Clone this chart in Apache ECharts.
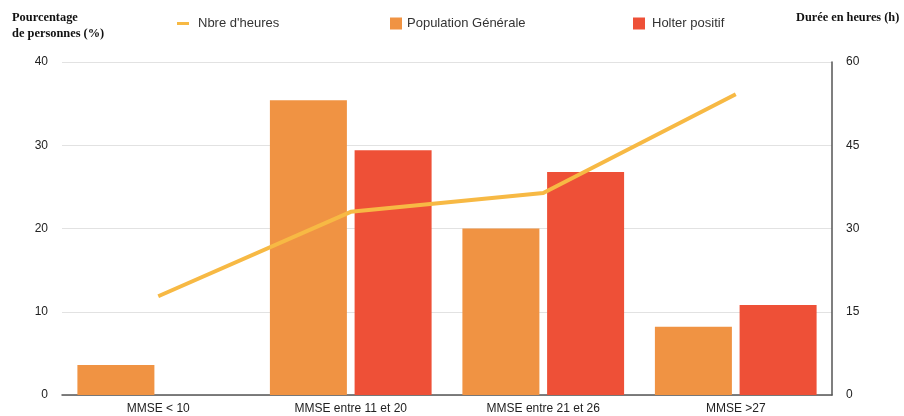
<!DOCTYPE html>
<html>
<head>
<meta charset="utf-8">
<script src="https://cdn.jsdelivr.net/npm/echarts@6/dist/echarts.min.js"></script>
<style>html,body{margin:0;padding:0;background:#fff;}#c{width:904px;height:416px;}</style>
</head>
<body>
<div id="c"></div>
<script>
const categories = ['MMSE < 10', 'MMSE entre 11 et 20', 'MMSE entre 21 et 26', 'MMSE >27'];
const populationGenerale = [3.6, 35.4, 20, 8.2];
const holterPositif = [0, 29.4, 26.8, 10.8];
const nbreHeures = [17.8, 33, 36.4, 54.2];
const leftTicks = [0, 10, 20, 30, 40];
const rightTicks = [0, 15, 30, 45, 60];

const chart = echarts.init(document.getElementById('c'));
const font = 'Liberation Sans, Arial, Helvetica, sans-serif';
chart.setOption({
  animation: false,
  textStyle: { fontFamily: font },
  grid: { left: 62, right: 72, top: 62, bottom: 21, containLabel: false },
  legend: [
    { data: ['Nbre d\'heures'], left: 172, top: 12, icon: 'rect', itemWidth: 12, itemHeight: 3,
      textStyle: { fontSize: 13, color: '#333', fontFamily: font, padding: [0, 0, 0, 4] } },
    { data: ['Population Générale'], left: 385, top: 12, icon: 'rect', itemWidth: 12, itemHeight: 12,
      textStyle: { fontSize: 13, color: '#333', fontFamily: font } },
    { data: ['Holter positif'], left: 628, top: 12, icon: 'rect', itemWidth: 12, itemHeight: 12,
      textStyle: { fontSize: 13, color: '#333', fontFamily: font, padding: [0, 0, 0, 2] } }
  ],
  xAxis: {
    type: 'category', data: categories,
    axisLine: { show: true, lineStyle: { color: '#555', width: 1.5 } },
    axisTick: { show: false },
    axisLabel: { color: '#222', fontSize: 12, margin: 8, fontFamily: font }
  },
  yAxis: [
    { type: 'value', min: leftTicks[0], max: leftTicks[leftTicks.length - 1], interval: 10,
      axisLine: { show: false }, axisTick: { show: false },
      axisLabel: { color: '#222', fontSize: 12, margin: 14, fontFamily: font },
      splitLine: { lineStyle: { color: '#e2e2e2', width: 1 } } },
    { type: 'value', min: rightTicks[0], max: rightTicks[rightTicks.length - 1], interval: 15, position: 'right',
      axisLine: { show: true, lineStyle: { color: '#555', width: 1.5 } }, axisTick: { show: false },
      axisLabel: { color: '#222', fontSize: 12, margin: 14, fontFamily: font },
      splitLine: { show: false } }
  ],
  graphic: [
    { type: 'text', left: 12, top: 10, style: { text: 'Pourcentage\nde personnes (%)', font: 'bold 12.4px "Liberation Serif", "Times New Roman", serif', fill: '#111', lineHeight: 16 } },
    { type: 'text', left: 796, top: 12, style: { text: 'Durée en heures (h)', font: 'bold 12.3px "Liberation Serif", "Times New Roman", serif', fill: '#111' } }
  ],
  series: [
    { name: 'Nbre d\'heures', type: 'line', yAxisIndex: 1, data: nbreHeures, z: 5,
      symbol: 'none', lineStyle: { color: '#F7B944', width: 4 }, itemStyle: { color: '#F7B944' } },
    { name: 'Population Générale', type: 'bar', data: populationGenerale, barWidth: 77, barGap: '10%',
      itemStyle: { color: '#F09343' } },
    { name: 'Holter positif', type: 'bar', data: holterPositif, barWidth: 77, barGap: '10%',
      itemStyle: { color: '#EE5037' } }
  ]
});
</script>
</body>
</html>
